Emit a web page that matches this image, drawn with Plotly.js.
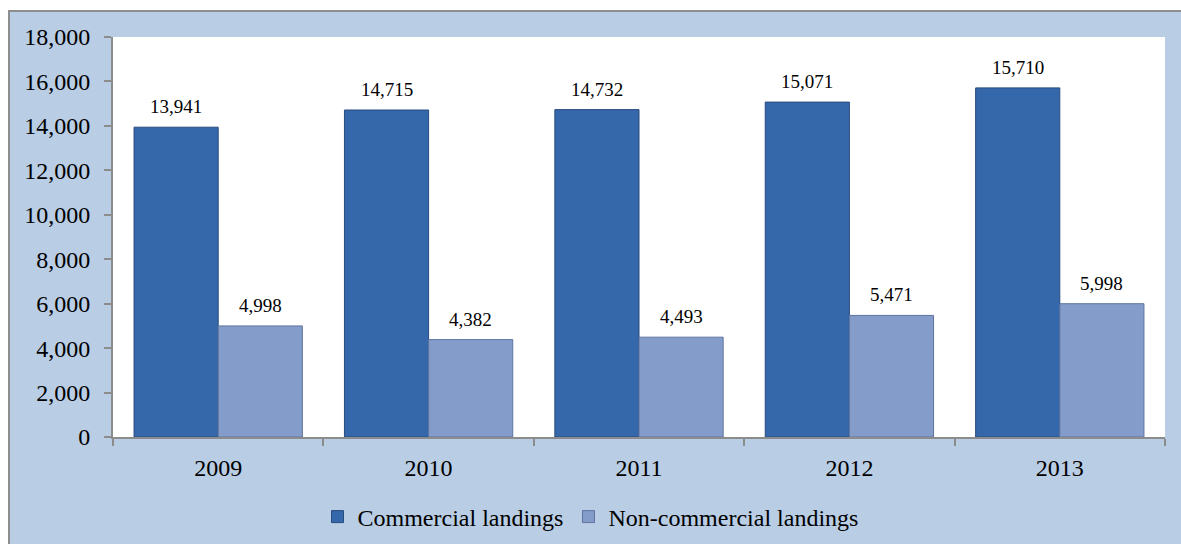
<!DOCTYPE html>
<html>
<head>
<meta charset="utf-8">
<script src="https://cdn.plot.ly/plotly-3.0.1.min.js"></script>
<style>html,body{margin:0;padding:0;background:#fff;}#chart{width:1181px;height:544px;}</style>
</head>
<body>
<div id="chart"></div>
<script>
const years = ['2009', '2010', '2011', '2012', '2013'];
const commercial = [13941, 14715, 14732, 15071, 15710];
const nonCommercial = [4998, 4382, 4493, 5471, 5998];
const seriesNames = ['Commercial landings', 'Non-commercial landings'];
const yTicks = [0, 2000, 4000, 6000, 8000, 10000, 12000, 14000, 16000, 18000];

const W = 1181, H = 544;
const margin = {l: 113, r: 16, t: 37, b: 107};
const bargap = 0.2;
const plotW = W - margin.l - margin.r;
const plotH = H - margin.t - margin.b;
const catW = plotW / years.length;
const off = catW * (1 - bargap) / 4;

const font = 'Liberation Serif';

const traces = [
  {type: 'bar', name: seriesNames[0], x: years, y: commercial,
   marker: {color: '#3567AB', line: {color: '#284C7E', width: 1}}, hoverinfo: 'x+y'},
  {type: 'bar', name: seriesNames[1], x: years, y: nonCommercial,
   marker: {color: '#849CC9', line: {color: '#5E74A0', width: 1}}, hoverinfo: 'x+y'}
];

const fmt = v => v.toLocaleString('en-US');
const annotations = [];
[commercial, nonCommercial].forEach((vals, si) => {
  vals.forEach((v, i) => {
    annotations.push({x: i, y: v, xref: 'x', yref: 'y', text: fmt(v),
      showarrow: false, yanchor: 'bottom', xanchor: 'center',
      xshift: si === 0 ? -off : off, yshift: 8,
      font: {family: font, size: 19, color: '#000'}});
  });
});

const px2x = p => (p - margin.l) / plotW;
const px2y = p => (H - margin.b - p) / plotH;

const layout = {
  width: W, height: H,
  margin: margin,
  font: {family: font, color: '#000'},
  paper_bgcolor: '#ffffff',
  plot_bgcolor: 'rgba(0,0,0,0)',
  barmode: 'group', bargap: bargap, bargroupgap: 0,
  showlegend: true,
  legend: {orientation: 'h', xref: 'container', yref: 'container', x: 0.5, xanchor: 'center',
    y: (H - 517) / H, yanchor: 'middle',
    font: {family: font, size: 24, color: '#000'}, bgcolor: 'rgba(0,0,0,0)', itemwidth: 30,
    traceorder: 'normal'},
  xaxis: {type: 'category', range: [-0.5, years.length - 0.5], showgrid: false, zeroline: false, showline: true,
    automargin: false,
    linecolor: '#8C8C8C', linewidth: 2, ticks: 'outside', tickson: 'boundaries', ticklen: 7,
    tickcolor: '#8C8C8C', tickwidth: 2, tickangle: 0, ticklabelstandoff: 8,
    tickfont: {family: font, size: 24, color: '#000'}},
  yaxis: {range: [0, 18000], tickvals: yTicks, tickformat: ',', showgrid: false, zeroline: false,
    automargin: false,
    showline: true, linecolor: '#8C8C8C', linewidth: 2, ticks: 'outside', ticklen: 7,
    tickcolor: '#8C8C8C', tickwidth: 2, ticklabelstandoff: 9,
    tickfont: {family: font, size: 24, color: '#000'}},
  shapes: [
    {type: 'rect', xref: 'paper', yref: 'paper', layer: 'below',
     x0: px2x(9), x1: px2x(1190), y0: px2y(560), y1: px2y(11),
     fillcolor: '#B9CDE5', line: {color: '#8E8E8E', width: 2}},
    {type: 'rect', xref: 'paper', yref: 'paper', layer: 'below',
     x0: 0, x1: 1, y0: 0, y1: 1, fillcolor: '#ffffff', line: {width: 0}}
  ],
  annotations: annotations
};

Plotly.newPlot('chart', traces, layout, {displayModeBar: false, staticPlot: true});
</script>
</body>
</html>
